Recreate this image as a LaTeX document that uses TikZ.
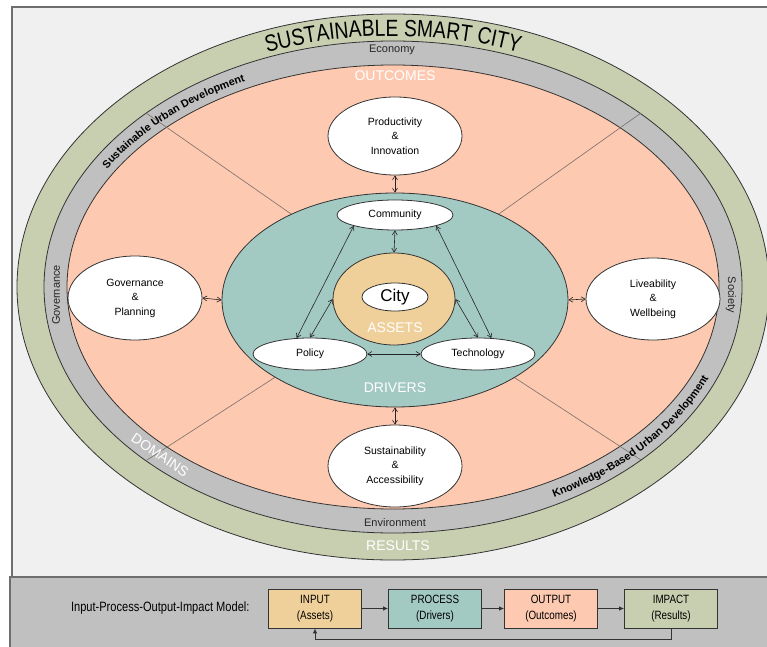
\documentclass[tikz,border=0pt]{standalone}
\usepackage{fontspec}
\setmainfont{Liberation Sans}
\newfontfamily\narrowfont[FakeStretch=0.82]{Liberation Sans}
\usetikzlibrary{shapes.geometric,arrows.meta,decorations.text}
\definecolor{bgc}{HTML}{F0F0F0}
\definecolor{framec}{HTML}{6E6E6E}
\definecolor{ringgreen}{HTML}{C8CFB0}
\definecolor{ringgray}{HTML}{C0C0C0}
\definecolor{salmonc}{HTML}{FDC9B0}
\definecolor{tealc}{HTML}{A3C9C3}
\definecolor{assetc}{HTML}{F0D09A}
\definecolor{edgec}{HTML}{333333}
\definecolor{dividerc}{HTML}{7A6E68}
\begin{document}
\begin{tikzpicture}[x=1pt,y=1pt,
  ring/.style={draw=edgec,line width=0.8pt},
  oval/.style={ellipse,draw=edgec,line width=0.8pt,fill=white,inner sep=0pt,align=center,font=\fontsize{10.5}{14.5}\selectfont},
  ghost/.style={text=white,font=\fontsize{14}{16}\selectfont},
  band/.style={font=\fontsize{11}{13}\selectfont,text=black!85},
  dbl/.style={{Straight Barb[length=4pt,width=5pt]}-{Straight Barb[length=4pt,width=5pt]},line width=0.6pt,draw=black!85},
  ipo/.style={draw=edgec,line width=0.8pt,minimum width=93pt,minimum height=39pt,inner sep=0pt,align=center,font=\narrowfont\fontsize{12}{15.5}\selectfont},
  flow/.style={-{Latex[length=5pt,width=4.5pt]},line width=0.8pt,draw=edgec},
  divider/.style={draw=dividerc,line width=0.6pt}
]
\useasboundingbox (0,0) rectangle (767,646);
\fill[white] (0,0) rectangle (767,646);
% frame and bottom panel
\draw[fill=bgc,draw=framec,line width=1.5pt] (12,639) rectangle (772,69);
\draw[fill=ringgray,draw=framec,line width=1.5pt] (10,69) rectangle (772,-5);
% rings
\coordinate (C) at (393,359);
\draw[ring,fill=ringgreen] (C) ellipse[x radius=376,y radius=273];
\draw[ring,fill=ringgray] (C) ellipse[x radius=349,y radius=246];
\draw[ring,fill=salmonc] (C) ellipse[x radius=326,y radius=222];
% dividers
\draw[divider] (146,533) -- (294,430);
\draw[divider] (641,533) -- (496,430);
\draw[divider] (147,186) -- (277,270);
\draw[divider] (641,186) -- (512,270);
% band texts
\path[decorate,decoration={text along path,text align=center,
  text={|\narrowfont\fontsize{23.5}{26}\selectfont|SUSTAINABLE SMART CITY}}]
  ([shift={(135:354 and 251)}]C) arc[start angle=135,end angle=45,x radius=354,y radius=251];
\path[decorate,decoration={text along path,text align=center,
  text={|\bfseries\fontsize{10.8}{12}\selectfont|Sustainable Urban Development}}]
  ([shift={(168:333 and 229.5)}]C) arc[start angle=168,end angle=102,x radius=333,y radius=229.5];
\path[decorate,decoration={text along path,text align=center,
  text={|\bfseries\fontsize{10.8}{12}\selectfont|Knowledge-Based Urban Development}}]
  ([shift={(-82:341.5 and 238.5)}]C) arc[start angle=-82,end angle=5,x radius=341.5,y radius=238.5];
\node[band] (economy) at (392,596) {Economy};
\node[band] (environment) at (395,123) {Environment};
\node[band,rotate=90] (governancelbl) at (56,351) {Governance};
\node[band,rotate=-90] (societylbl) at (731,351) {Society};
\node[ghost,rotate=-34] (domains) at (160,191) {DOMAINS};
\node[ghost] (outcomes) at (395,570) {OUTCOMES};
\node[ghost] (results) at (398,100) {RESULTS};
% drivers and assets
\node[ellipse,draw=edgec,line width=0.8pt,fill=tealc,minimum width=346pt,minimum height=214pt,inner sep=0pt] (drivers) at (395,346) {};
\node[ellipse,draw=edgec,line width=0.8pt,fill=assetc,minimum width=122pt,minimum height=92pt,inner sep=0pt] (assets) at (394,347) {};
\node[oval,minimum width=66pt,minimum height=28pt,font=\fontsize{17}{19}\selectfont] (city) at (395,349) {City};
\node[ghost] (assetslbl) at (395,318) {ASSETS};
\node[ghost] (driverslbl) at (395,258) {DRIVERS};
\node[oval,minimum width=116pt,minimum height=30pt] (community) at (395,431) {Community};
\node[oval,minimum width=114pt,minimum height=32pt] (policy) at (310,292) {Policy};
\node[oval,minimum width=114pt,minimum height=32pt] (technology) at (478,292) {Technology};
% outcomes
\node[oval,minimum width=134pt,minimum height=78pt] (prod) at (395,510) {Productivity\\\&\\Innovation};
\node[oval,minimum width=134pt,minimum height=84pt] (gov) at (135,348) {Governance\\\&\\Planning};
\node[oval,minimum width=134pt,minimum height=82pt] (live) at (653,347) {Liveability\\\&\\Wellbeing};
\node[oval,minimum width=134pt,minimum height=82pt] (sust) at (395,180) {Sustainability\\\&\\Accessibility};
% connectors
\draw[dbl] (prod.south) -- (drivers.north);
\draw[dbl] (gov.east) -- (drivers.west);
\draw[dbl] (drivers.east) -- (live.west);
\draw[dbl] (drivers.south) -- (sust.north);
\draw[dbl] (community.south) -- (assets.north);
\draw[dbl] (community.south west) -- (policy.130);
\draw[dbl] (community.south east) -- (technology.50);
\draw[dbl] (policy.north) -- (assets.west);
\draw[dbl] (assets.east) -- (technology.north);
\draw[dbl] (policy.east) -- (technology.west);
% IPO model
\node[anchor=east,font=\narrowfont\fontsize{13.5}{15}\selectfont] (ipolbl) at (253,38) {Input-Process-Output-Impact Model:};
\node[ipo,fill=assetc] (input) at (315,37.5) {INPUT\\(Assets)};
\node[ipo,fill=tealc] (process) at (435,37.5) {PROCESS\\(Drivers)};
\node[ipo,fill=salmonc] (output) at (551,37.5) {OUTPUT\\(Outcomes)};
\node[ipo,fill=ringgreen] (impact) at (671,37.5) {IMPACT\\(Results)};
\draw[flow] (input) -- (process);
\draw[flow] (process) -- (output);
\draw[flow] (output) -- (impact);
\draw[flow] (impact.south) -- ++(0,-11) -| (input.south);
\end{tikzpicture}
\end{document}
